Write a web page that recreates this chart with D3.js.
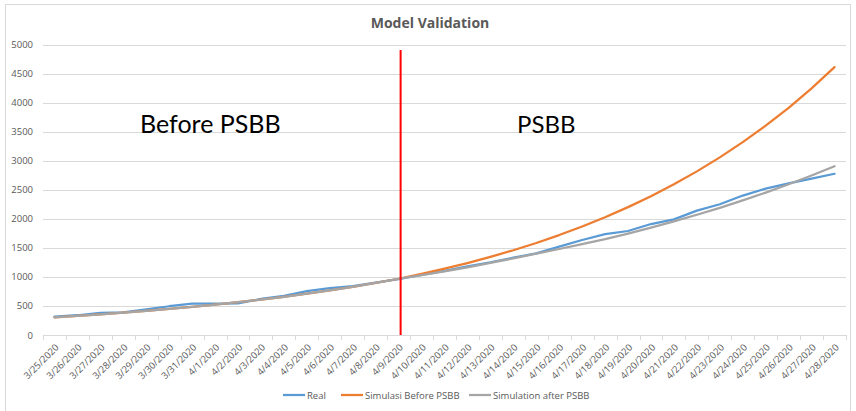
<!DOCTYPE html>
<html>
<head>
<meta charset="utf-8">
<script src="https://cdn.jsdelivr.net/npm/d3@7"></script>
<style>
  html, body { margin: 0; padding: 0; background: #fff; }
  svg { display: block; font-family: "Open Sans", "Liberation Sans", sans-serif; }
</style>
</head>
<body>
<svg id="chart" width="856" height="411"></svg>
<script>
// ---- data ----
const dates = ["3/25/2020","3/26/2020","3/27/2020","3/28/2020","3/29/2020","3/30/2020","3/31/2020",
  "4/1/2020","4/2/2020","4/3/2020","4/4/2020","4/5/2020","4/6/2020","4/7/2020","4/8/2020","4/9/2020",
  "4/10/2020","4/11/2020","4/12/2020","4/13/2020","4/14/2020","4/15/2020","4/16/2020","4/17/2020",
  "4/18/2020","4/19/2020","4/20/2020","4/21/2020","4/22/2020","4/23/2020","4/24/2020","4/25/2020",
  "4/26/2020","4/27/2020","4/28/2020"];
const real = [315,340,380,390,440,495,540,540,545,620,675,755,808,840,900,960,
  1035,1105,1180,1250,1330,1405,1520,1635,1735,1790,1910,1990,2140,2250,2400,2520,2610,2690,2775];
const simBefore = [305,329,356,384,415,448,484,523,565,610,658,711,768,829,896,968,
  1051,1141,1238,1344,1459,1584,1720,1867,2027,2201,2389,2594,2816,3057,3319,3603,3911,4246,4611];
const simAfter = [305,329,356,384,415,448,484,523,565,610,658,711,768,829,896,968,
  1030,1095,1165,1240,1320,1400,1480,1565,1650,1746,1848,1955,2069,2189,2317,2451,2594,2745,2905];
const yTicks = [0,500,1000,1500,2000,2500,3000,3500,4000,4500,5000];
const seriesNames = ["Real","Simulasi Before PSBB","Simulation after PSBB"];
const seriesColors = ["#5B9BD5","#ED7D31","#A5A5A5"];
const dividerDate = "4/9/2020";
const title = "Model Validation";

(function(){
// ---- layout ----
const svg = d3.select("#chart");
const mLeft = 43, mRight = 846, mTop = 44.5, mBottom = 335;

svg.append("rect").attr("x",5.5).attr("y",4.5).attr("width",845).attr("height",420)
  .attr("fill","#fff").attr("stroke","#d9d9d9").attr("stroke-width",1);

const x = d3.scaleBand().domain(dates).range([mLeft, mRight]).padding(0);
const xc = d => x(d) + x.bandwidth()/2;
const y = d3.scaleLinear().domain([0,5000]).range([mBottom, mTop]);

// gridlines
svg.append("g").selectAll("line").data(yTicks.filter(t => t > 0)).join("line")
  .attr("x1", mLeft).attr("x2", mRight)
  .attr("y1", d => Math.round(y(d)) + 0.5).attr("y2", d => Math.round(y(d)) + 0.5)
  .attr("stroke","#d9d9d9").attr("stroke-width",1);

// y axis labels
const yAxis = d3.axisLeft(y).tickValues(yTicks).tickFormat(d3.format("d")).tickSize(0).tickPadding(0);
const gy = svg.append("g").attr("transform",`translate(${mLeft-10},0)`).call(yAxis);
gy.select(".domain").remove();
gy.selectAll("text").attr("fill","#595959").style("font-size","9.5px")
  .style("font-family","'Open Sans', sans-serif");

// x axis
svg.append("line").attr("x1",mLeft).attr("x2",mRight).attr("y1",mBottom+0.5).attr("y2",mBottom+0.5)
  .attr("stroke","#d9d9d9").attr("stroke-width",1);
const bounds = dates.map(d => x(d)).concat([x(dates[dates.length-1]) + x.bandwidth()]);
svg.append("g").selectAll("line").data(bounds).join("line")
  .attr("x1", d => Math.round(d)+0.5).attr("x2", d => Math.round(d)+0.5)
  .attr("y1", mBottom).attr("y2", mBottom+5)
  .attr("stroke","#d9d9d9").attr("stroke-width",1);

const xAxis = d3.axisBottom(x).tickSize(0).tickPadding(0);
const gx = svg.append("g").attr("transform",`translate(0,${mBottom})`).call(xAxis);
gx.select(".domain").remove();
gx.selectAll(".tick text")
  .attr("fill","#595959").style("font-size","9.5px")
  .style("font-family","'Open Sans', sans-serif")
  .attr("text-anchor","end")
  .attr("dy","0")
  .attr("y",0)
  .attr("transform","translate(5,13) rotate(-45)");

// lines
const line = d3.line().x((d,i) => xc(dates[i])).y(d => y(d));
const allSeries = [real, simBefore, simAfter];
allSeries.forEach((s,k) => {
  svg.append("path").datum(s).attr("d", line)
    .attr("fill","none").attr("stroke", seriesColors[k])
    .attr("stroke-width",2.25).attr("stroke-linejoin","round").attr("stroke-linecap","round");
});

// divider
svg.append("line").attr("x1", xc(dividerDate)+2).attr("x2", xc(dividerDate)+2)
  .attr("y1", 50).attr("y2", mBottom)
  .attr("stroke","#ff0000").attr("stroke-width",2);

// title
svg.append("text").attr("x",430).attr("y",28).attr("text-anchor","middle")
  .attr("fill","#595959").style("font-size","14px").style("font-weight","bold")
  .text(title);

// annotations
svg.append("text").attr("x",140).attr("y",133).attr("fill","#000")
  .style("font-size","25px").style("font-family","Lato, sans-serif").text("Before PSBB");
svg.append("text").attr("x",517).attr("y",133).attr("fill","#000")
  .style("font-size","24px").style("font-family","Lato, sans-serif").text("PSBB");

// legend
const legendX = [283, 341, 469];
seriesNames.forEach((n,k) => {
  const g = svg.append("g").attr("transform",`translate(${legendX[k]},395)`);
  g.append("line").attr("x1",0).attr("x2",22).attr("y1",0).attr("y2",0)
    .attr("stroke",seriesColors[k]).attr("stroke-width",2.25);
  g.append("text").attr("x",24).attr("y",3.5).attr("fill","#595959")
    .style("font-size","9.5px").text(n);
});
})();
</script>
</body>
</html>
